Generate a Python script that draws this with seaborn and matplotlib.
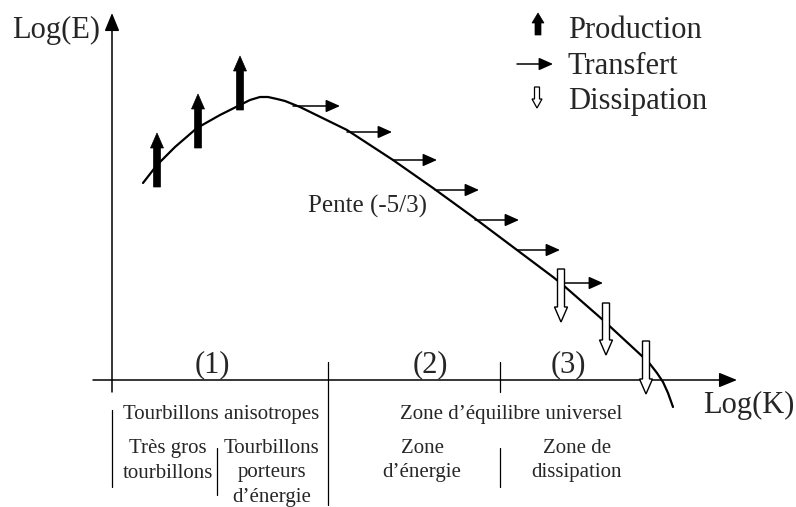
import numpy as np
import matplotlib.pyplot as plt
import seaborn as sns
import pandas as pd

#   Schematic drawn in picture units (1 unit = 1 px, y grows downward)

# --Energy spectrum curve
curve_k = [143, 157, 175, 197, 220, 230, 240, 250, 260, 268, 277, 285, 300, 347, 393,
           433, 473, 517, 553, 563, 603, 643, 650, 657, 663, 668, 673]
curve_e = [183, 165, 147, 128, 115, 110, 105, 100, 97, 97, 99, 101, 107, 130, 160,
           188, 217, 250, 277, 285, 320, 357, 364, 373, 382, 393, 407]

# --Production arrows (x, base, top)
prod_k = [157, 198, 240]
prod_base = [187, 148, 110]
prod_top = [133, 94, 56]

# --Transfer arrows (start x, y, end x)
trans_k = [293, 347, 393, 435, 475, 517, 563]
trans_e = [106, 132, 160, 190, 220, 250, 283]
trans_end = [340, 392, 437, 479, 519, 560, 603]

# --Dissipation arrows (x, top, tip)
diss_k = [561, 606, 646]
diss_top = [269, 303, 341]
diss_tip = [322, 355, 394]

# --Texts
zone_labels = ["(1)", "(2)", "(3)"]
zone_x = [212, 430, 568]
legend_labels = ["Production", "Transfert", "Dissipation"]
legend_y = [38, 74, 109]

curve = pd.DataFrame({"k": curve_k, "e": curve_e})

sns.set_theme(style="white")
plt.rcParams["font.family"] = ["Liberation Serif", "DejaVu Serif"]

fig = plt.figure(figsize=(7.96, 5.07), dpi=100)
ax = fig.add_axes([0, 0, 1, 1])
ax.set_xlim(0, 796)
ax.set_ylim(507, 0)
ax.axis("off")

sns.lineplot(data=curve, x="k", y="e", sort=False, color="black", lw=1.6, ax=ax, zorder=2)


def line_arrow(x0, y0, x1, y1, hl, hw, lw):
    #   thin line with filled head
    ax.annotate("", xy=(x1, y1), xytext=(x0, y0),
                arrowprops=dict(arrowstyle=f"-|>,head_length={hl},head_width={hw}",
                                color="black", lw=lw, shrinkA=0, shrinkB=0,
                                mutation_scale=10), zorder=3)


# axes
line_arrow(93, 380, 737, 380, 1.1, 0.45, 1.1)
line_arrow(112, 392, 112, 13, 1.1, 0.45, 1.1)

# production
for x, b, t in zip(prod_k, prod_base, prod_top):
    ax.arrow(x, b, 0, t - b, width=7, head_width=13, head_length=15,
             length_includes_head=True, fc="black", ec="black", lw=0.5, zorder=4)

# transfer
for x, y, xe in zip(trans_k, trans_e, trans_end):
    line_arrow(x, y, xe, y, 0.85, 0.38, 1.1)

# dissipation
for x, t, tip in zip(diss_k, diss_top, diss_tip):
    ax.arrow(x, t, 0, tip - t, width=7, head_width=13, head_length=15,
             length_includes_head=True, fc="white", ec="black", lw=1.0, zorder=5)

# legend
ax.arrow(538, 35, 0, -22, width=6, head_width=12, head_length=10,
         length_includes_head=True, fc="black", ec="black", lw=0.5)
line_arrow(517, 64, 553, 64, 0.85, 0.38, 1.1)
ax.arrow(537, 87, 0, 21, width=5, head_width=10, head_length=9,
         length_includes_head=True, fc="white", ec="black", lw=0.9)
for lab, y in zip(legend_labels, legend_y):
    ax.text(568, y, lab, fontsize=22, va="baseline", ha="left")

# axis labels
ax.text(56, 38, "Log(E)", fontsize=22, va="baseline", ha="center")
ax.text(794, 413, "Log(K)", fontsize=22, va="baseline", ha="right")
ax.text(368, 213, "Pente (-5/3)", fontsize=18, va="baseline", ha="center")

for lab, x in zip(zone_labels, zone_x):
    ax.text(x, 372, lab, fontsize=22, va="baseline", ha="center")

# separators
seps = [(112, 410, 487), (217, 448, 495), (328, 362, 505), (500, 362, 392), (500, 448, 487)]
for x, y0, y1 in seps:
    ax.plot([x, x], [y0, y1], color="black", lw=0.9)

# lower captions
fs = 15
ax.text(221, 419, "Tourbillons anisotropes", fontsize=fs, ha="center", va="baseline")
ax.text(511, 419, "Zone d\u2019\u00e9quilibre universel", fontsize=fs, ha="center", va="baseline")
cols = [(168, ["Tr\u00e8s gros", "tourbillons"]),
        (272, ["Tourbillons", "porteurs", "d\u2019\u00e9nergie"]),
        (422, ["Zone", "d\u2019\u00e9nergie"]),
        (577, ["Zone de", "dissipation"])]
for x, lines in cols:
    for i, s in enumerate(lines):
        ax.text(x, 453 + 24.5 * i, s, fontsize=fs, ha="center", va="baseline")

plt.savefig("out.png", dpi=100)
